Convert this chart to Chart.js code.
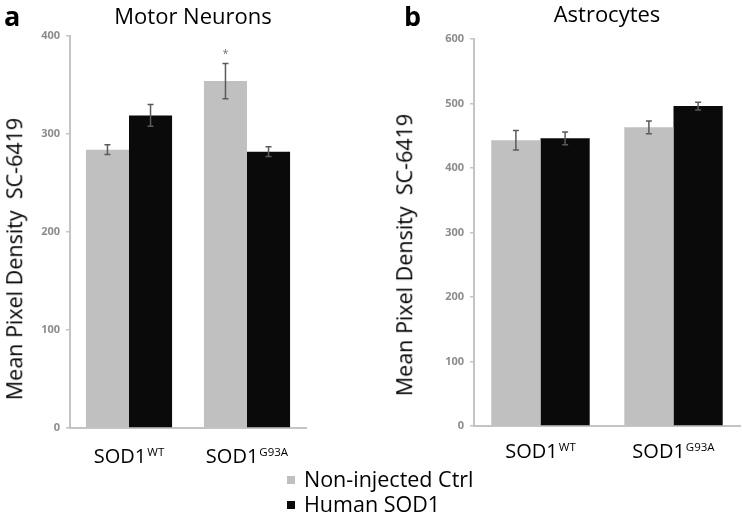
<!DOCTYPE html>
<html><head><meta charset="utf-8">
<script src="https://cdn.jsdelivr.net/npm/chart.js@4.4.1/dist/chart.umd.min.js"></script>
<style>
body{margin:0;background:#fff;width:742px;height:514px;overflow:hidden;position:relative;font-family:"Open Sans",sans-serif;}
.wrap{position:absolute;top:0;height:514px;}
.lbl{position:absolute;color:#000;white-space:nowrap;line-height:1;}
.ytitle{position:absolute;white-space:nowrap;font-size:21.5px;line-height:1;transform:translate(-50%,-50%) rotate(-90deg);}
.sq{position:absolute;width:8px;height:8px;}
</style></head><body>
<div class="wrap" style="left:0;width:320px"><canvas id="ca"></canvas></div>
<div class="wrap" style="left:394px;width:348px"><canvas id="cb"></canvas></div>
<div class="lbl" style="left:4px;top:2px;font-weight:bold;font-size:27px">a</div>
<div class="lbl" id="tA" style="left:193px;top:4px;font-size:22px;transform:translateX(-50%)">Motor Neurons</div>
<div class="lbl" style="left:404px;top:2px;font-weight:bold;font-size:27px">b</div>
<div class="lbl" id="tB" style="left:607px;top:2px;font-size:22px;transform:translateX(-50%)">Astrocytes</div>
<div class="ytitle" style="left:14px;top:259px">Mean Pixel Density&nbsp;&nbsp;SC-6419</div>
<div class="ytitle" style="left:404px;top:255px">Mean Pixel Density&nbsp;&nbsp;SC-6419</div>
<div id="legend"></div>
<script>
// ---- data ----
const categoryBase = ["SOD1", "SOD1"];
const categorySup = ["WT", "G93A"];
const seriesNames = ["Non-injected Ctrl", "Human SOD1"];
const seriesColors = ["#c0c0c0", "#0a0a0a"];

const motorCtrl = [284, 354];
const motorCtrlErr = [5, 18];
const motorHuman = [319, 282];
const motorHumanErr = [11, 5];
const motorMarks = [["", "*"], ["", ""]];
const motorTicks = [0, 100, 200, 300, 400];

const astroCtrl = [443, 463];
const astroCtrlErr = [15, 10];
const astroHuman = [446, 496];
const astroHumanErr = [10, 6];
const astroMarks = [["", ""], ["", ""]];
const astroTicks = [0, 100, 200, 300, 400, 500, 600];

// ---- legend (HTML text) ----
const leg = document.getElementById('legend');
seriesNames.forEach((n, i) => {
  const sq = document.createElement('div');
  sq.className = 'sq';
  sq.style.left = '287px';
  sq.style.top = (476 + i * 25) + 'px';
  sq.style.background = seriesColors[i];
  leg.appendChild(sq);
  const t = document.createElement('div');
  t.className = 'lbl';
  t.style.left = '304px';
  t.style.top = (468 + i * 25) + 'px';
  t.style.fontSize = '21.5px';
  t.textContent = n;
  leg.appendChild(t);
});

const errPlugin = {
  id: 'errbars',
  afterDatasetsDraw(chart) {
    const ctx = chart.ctx;
    const ys = chart.scales.y;
    const o = chart.options.plugins.errbars;
    chart.data.datasets.forEach((ds, di) => {
      const meta = chart.getDatasetMeta(di);
      meta.data.forEach((bar, i) => {
        const v = ds.data[i], e = ds.err[i];
        const yt = ys.getPixelForValue(v + e), yb = ys.getPixelForValue(v - e);
        ctx.save();
        ctx.strokeStyle = '#5a5a5a';
        ctx.lineWidth = 1.5;
        ctx.beginPath();
        ctx.moveTo(bar.x, yt); ctx.lineTo(bar.x, yb);
        ctx.moveTo(bar.x - 3, yt); ctx.lineTo(bar.x + 3, yt);
        ctx.moveTo(bar.x - 3, yb); ctx.lineTo(bar.x + 3, yb);
        ctx.stroke();
        const m = ds.marks[i];
        if (m) {
          ctx.fillStyle = '#666';
          ctx.font = '10px "Open Sans"';
          ctx.textAlign = 'center';
          ctx.textBaseline = 'middle';
          ctx.fillText(m, bar.x, yt - 9);
        }
        ctx.restore();
      });
    });
    // category labels with superscripts
    const xs = chart.scales.x;
    ctx.save();
    ctx.fillStyle = '#000';
    ctx.textBaseline = 'alphabetic';
    ctx.textAlign = 'left';
    chart.data.labels.forEach((lab, i) => {
      const cx = xs.getPixelForValue(i);
      ctx.font = '20px "Open Sans"';
      const wb = ctx.measureText(categoryBase[i]).width;
      ctx.font = '11.5px "Open Sans"';
      const ws = ctx.measureText(categorySup[i]).width;
      const x0 = cx - (wb + 1 + ws) / 2;
      const by = chart.chartArea.bottom + o.labelOffset;
      ctx.font = '20px "Open Sans"';
      ctx.fillText(categoryBase[i], x0, by);
      ctx.font = '11.5px "Open Sans"';
      ctx.fillText(categorySup[i], x0 + wb + 1, by - 7);
    });
    ctx.restore();
  }
};

function makeChart(id, ctrl, ctrlErr, human, humanErr, marks, ticks, opts) {
  return new Chart(document.getElementById(id), {
    type: 'bar',
    data: {
      labels: categoryBase.map((b, i) => b + categorySup[i]),
      datasets: [
        { label: seriesNames[0], data: ctrl, err: ctrlErr, marks: marks[0], backgroundColor: seriesColors[0], borderWidth: 0 },
        { label: seriesNames[1], data: human, err: humanErr, marks: marks[1], backgroundColor: seriesColors[1], borderWidth: 0 }
      ]
    },
    options: {
      responsive: true,
      maintainAspectRatio: false,
      animation: false,
      layout: { padding: { top: opts.top, right: opts.right, left: 0, bottom: 0 } },
      datasets: { bar: { categoryPercentage: opts.catPct, barPercentage: 1.0 } },
      plugins: { legend: { display: false }, tooltip: { enabled: false }, errbars: { labelOffset: opts.labelOffset } },
      scales: {
        x: {
          grid: { display: false },
          border: { display: true, color: '#c4c4c4', width: 2 },
          ticks: { display: false },
          afterFit: s => { s.height = opts.xh; }
        },
        y: {
          min: ticks[0], max: ticks[ticks.length - 1],
          afterBuildTicks: s => { s.ticks = ticks.map(v => ({ value: v })); },
          grid: { display: true, drawOnChartArea: false, drawTicks: true, tickLength: 4, color: '#c4c4c4', lineWidth: 1.5 },
          border: { display: true, color: '#c4c4c4', width: 2 },
          ticks: { color: '#8c8c8c', font: { family: 'Open Sans', size: 11, weight: 'bold' }, padding: 6 },
          afterFit: s => { s.width = opts.yw; }
        }
      }
    },
    plugins: [errPlugin]
  });
}

makeChart('ca', motorCtrl, motorCtrlErr, motorHuman, motorHumanErr, motorMarks, motorTicks,
  { top: 36, right: 14, xh: 86, yw: 70, catPct: 0.73, labelOffset: 35 });
makeChart('cb', astroCtrl, astroCtrlErr, astroHuman, astroHumanErr, astroMarks, astroTicks,
  { top: 39, right: 2, xh: 88, yw: 80, catPct: 0.74, labelOffset: 32 });
</script>
</body></html>
